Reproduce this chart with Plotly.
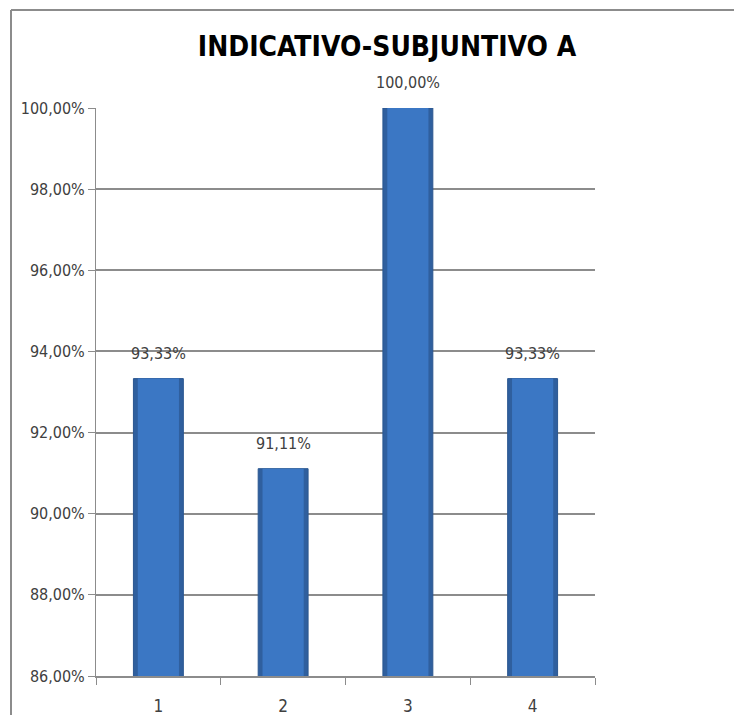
import plotly.graph_objects as go

# Chart data
categories = [1, 2, 3, 4]
category_labels = ["1", "2", "3", "4"]
values = [0.9333, 0.9111, 1.0, 0.9333]
y_ticks = [0.86, 0.88, 0.90, 0.92, 0.94, 0.96, 0.98, 1.00]
title_text = "INDICATIVO-SUBJUNTIVO A"

FONT = "Liberation Sans Narrow, Arial Narrow, DejaVu Sans Condensed, sans-serif"

W, H = 734, 715
ML, MR, MT, MB = 96, 139, 108, 39
plot_w = W - ML - MR
plot_h = H - MT - MB


def pct_label(v):
    return f"{v * 100:.2f}%".replace(".", ",")


fig = go.Figure()

# Darker outer bar gives the bevelled edge
fig.add_trace(go.Bar(
    x=categories, y=values,
    width=0.4,
    marker=dict(color="#2f5f9e", line=dict(color="#2a5690", width=1)),
    hoverinfo="skip", showlegend=False,
))
# Lighter inner face
fig.add_trace(go.Bar(
    x=categories, y=values,
    width=0.33,
    marker=dict(color="#3b77c4", line=dict(width=0)),
    showlegend=False,
))

annotations = [
    dict(x=c, y=v, text=pct_label(v), showarrow=False, yanchor="bottom",
         yshift=14, font=dict(family=FONT, size=16, color="#404040"))
    for c, v in zip(categories, values)
]

fig.update_layout(
    width=W, height=H,
    margin=dict(l=ML, r=MR, t=MT, b=MB),
    paper_bgcolor="white", plot_bgcolor="white",
    barmode="overlay",
    separators=",.",
    title=dict(text=f"<b>{title_text}</b>", x=387 / W, xanchor="center",
               y=1 - 46 / H, yanchor="middle",
               font=dict(family=FONT, size=28, color="black")),
    annotations=annotations,
    xaxis=dict(
        range=[0.5, 4.5], tickvals=categories, ticktext=category_labels,
        ticks="", showgrid=False, zeroline=False,
        showline=True, linecolor="#8c8c8c", linewidth=1.5,
        tickfont=dict(family=FONT, size=17, color="#404040"),
        ticklabelstandoff=14, automargin=False,
        minor=dict(tickvals=[0.5, 1.5, 2.5, 3.5, 4.5], ticks="outside",
                   ticklen=7, tickcolor="#8c8c8c", tickwidth=1, showgrid=False),
        fixedrange=True,
    ),
    yaxis=dict(
        range=[0.86, 1.0], tickvals=y_ticks, tickformat=".2%",
        showgrid=True, gridcolor="#8c8c8c", gridwidth=1.5,
        showline=True, linecolor="#8c8c8c", linewidth=1,
        ticks="outside", ticklen=7, tickcolor="#8c8c8c",
        zeroline=False, automargin=False,
        tickfont=dict(family=FONT, size=16, color="#404040"),
        fixedrange=True,
    ),
    shapes=[
        # Chart frame: left and top edges
        dict(type="line", xref="paper", yref="paper",
             x0=(11 - ML) / plot_w, x1=(11 - ML) / plot_w,
             y0=(H - MB - 10) / plot_h, y1=(H - MB - H - 5) / plot_h,
             line=dict(color="#8c8c8c", width=2)),
        dict(type="line", xref="paper", yref="paper",
             x0=(11 - ML) / plot_w, x1=(W + 5 - ML) / plot_w,
             y0=(H - MB - 10) / plot_h, y1=(H - MB - 10) / plot_h,
             line=dict(color="#8c8c8c", width=2)),
    ],
)

fig.write_html("out.html")
